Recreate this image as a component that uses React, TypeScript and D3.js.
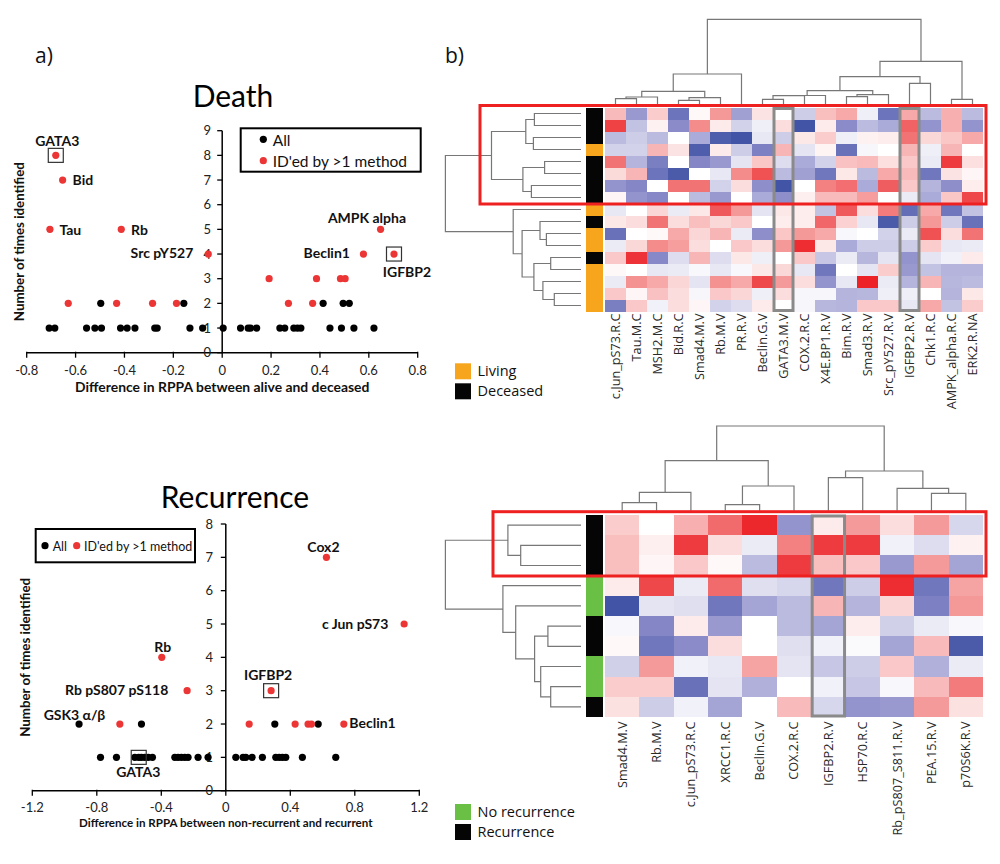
import * as d3 from 'd3';

type Tree = number | [number, Tree, Tree];

// ---------------- a) Death scatter ----------------
const deathXTicks = [-0.8, -0.6, -0.4, -0.2, 0, 0.2, 0.4, 0.6, 0.8];
const deathYTicks = [0, 1, 2, 3, 4, 5, 6, 7, 8, 9];
// black dots ("All") identified once / twice
const deathOnce = [-0.708, -0.685, -0.555, -0.521, -0.494, -0.416, -0.389, -0.357, -0.276, -0.266, -0.132, -0.08,
  0.004, 0.075, 0.106, 0.116, 0.141, 0.236, 0.256, 0.293, 0.308, 0.322, 0.441, 0.488, 0.539, 0.621];
const deathTwice = [-0.497, -0.157, 0.413, 0.495, 0.52];
// red dots (ID'ed by >1 method), unnamed
const deathMultiTwice = [-0.63, -0.432, -0.285, -0.187, 0.271, 0.37];
const deathMultiThrice = [0.192, 0.386, 0.484, 0.503];
const deathNamed = [
  { name: 'GATA3', diff: -0.681, count: 8, multi: true, boxed: true },
  { name: 'Bid', diff: -0.653, count: 7, multi: true },
  { name: 'Tau', diff: -0.705, count: 5, multi: true },
  { name: 'Rb', diff: -0.413, count: 5, multi: true },
  { name: 'Src pY527', diff: -0.057, count: 4, multi: true },
  { name: 'AMPK alpha', diff: 0.648, count: 5, multi: true },
  { name: 'Beclin1', diff: 0.578, count: 4, multi: true },
  { name: 'IGFBP2', diff: 0.703, count: 4, multi: true, boxed: true },
];

// ---------------- a) Recurrence scatter ----------------
const recXTicks = [-1.2, -0.8, -0.4, 0, 0.4, 0.8, 1.2];
const recYTicks = [0, 1, 2, 3, 4, 5, 6, 7, 8];
const recOnce = [-0.777, -0.678, -0.564, -0.523, -0.502, -0.481, -0.455, -0.316, -0.296, -0.275, -0.254, -0.234,
  -0.172, -0.11, 0.062, 0.107, 0.124, 0.163, 0.227, 0.31, 0.331, 0.351, 0.372, 0.475, 0.682];
const recTwice = [-0.523, 0.304, 0.573];
const recMultiTwice = [-0.657, 0.145, 0.43, 0.51, 0.531];
const recNamed = [
  { name: 'Cox2', diff: 0.624, count: 7, multi: true },
  { name: 'c Jun pS73', diff: 1.106, count: 5, multi: true },
  { name: 'Rb', diff: -0.397, count: 4, multi: true },
  { name: 'Rb pS807 pS118', diff: -0.24, count: 3, multi: true },
  { name: 'IGFBP2', diff: 0.281, count: 3, multi: true, boxed: true },
  { name: 'GSK3 α/β', diff: -0.91, count: 2, multi: false },
  { name: 'Beclin1', diff: 0.732, count: 2, multi: true },
  { name: 'GATA3', diff: -0.54, count: 1, multi: false, boxed: true },
];

// ---------------- b) Death heatmap ----------------
const deathCols = ['c.Jun_pS73.R.C', 'Tau.M.C', 'MSH2.M.C', 'Bid.R.C', 'Smad4.M.V', 'Rb.M.V', 'PR.R.V', 'Beclin.G.V',
  'GATA3.M.V', 'COX.2.R.C', 'X4E.BP1.R.V', 'Bim.R.V', 'Smad3.R.V', 'Src_pY527.R.V', 'IGFBP2.R.V', 'Chk1.R.C',
  'AMPK_alpha.R.C', 'ERK2.R.NA'];
const deathStatus = ['D', 'D', 'D', 'L', 'D', 'D', 'D', 'D', 'L', 'D', 'L', 'L', 'D', 'L', 'L', 'L', 'L'];
const deathValues = [
  [0.3, -0.45, 0.22, -0.7, 0.03, 0.45, -0.42, 0.12, 0, -0.22, 0.28, 0.38, -0.07, -0.7, 0.38, -0.3, 0.35, -0.3],
  [0.85, -0.27, 0.06, -0.52, 0.5, 0.09, -0.2, -0.07, 0.15, -0.95, 0.09, -0.52, -0.3, -0.37, 0.7, -0.48, 0.35, -0.48],
  [-0.3, -0.22, -0.3, 0, -0.37, -0.88, -0.95, -0.1, -0.22, 0.1, 0.22, -0.07, 0.06, 0.08, 0.62, 0.17, 0.25, 0.38],
  [-0.2, -0.2, 0.32, 0.12, -0.88, 0.09, -0.22, -0.6, 0.32, -0.12, 0.05, -0.72, -0.04, 0, 0.32, -0.07, 0.32, 0],
  [0.62, -0.33, -0.62, 0, -0.56, -0.45, -0.12, 0.25, -0.15, -0.37, -0.2, 0.27, 0.3, 0.14, 0.24, -0.09, 0.88, 0.14],
  [0.16, 0.32, -0.7, -0.9, 0, -0.1, 0.5, 0.78, -0.3, -0.42, -0.68, 0.1, -0.3, 0.38, 0.3, -0.68, 0.12, 0.04],
  [-0.48, -0.56, 0, 0.62, 0.62, -0.2, 0.15, -0.5, -0.95, 0, 0.55, 0.64, -0.37, 0.72, 0.24, -0.33, -0.5, 0.08],
  [0.04, -0.48, -0.55, 0, -0.3, -0.45, 0, -0.37, -0.5, 0.07, 0.3, 0.3, 0.42, 0, -0.09, -0.37, 0.25, 0.82],
  [-0.1, 0, 0.18, -0.09, 0.1, 0.74, 0.45, -0.12, 0.1, 0.08, -0.27, 0.74, 0.15, 0.58, -0.75, 0.38, -0.68, -0.27],
  [0.1, 0.15, 0.62, 0.15, 0.28, 0.17, 0.24, 0, 0.08, 0.08, 0.68, 0.2, -0.1, -0.9, -0.22, 0.45, -0.22, -0.72],
  [-0.72, 0, 0.03, 0.38, 0.18, 0.32, -0.09, -0.5, 0.25, 0.45, 0.38, -0.03, 0, -0.2, -0.09, 0.78, 0.15, 0.62],
  [-0.09, 0.17, 0.5, 0.42, 0.15, 0, 0.24, 0.15, 0.45, 0.95, 0.1, -0.37, -0.22, -0.22, -0.22, 0.22, -0.1, -0.09],
  [0.24, 0.92, -0.55, -0.15, 0.32, -0.15, 0.1, -0.07, 0, 0.24, -0.25, -0.09, -0.32, -0.12, -0.48, -0.12, -0.06, 0.09],
  [0.03, 0, -0.1, -0.09, -0.03, -0.1, -0.03, 0.1, 0.17, -0.1, -0.68, 0, -0.12, 0.22, -0.45, -0.27, -0.33, -0.33],
  [-0.09, 0.48, 0.38, 0.18, -0.12, 0.48, 0.38, 0.82, 0.44, 0.15, -0.48, -0.1, 1.0, -0.09, -0.33, 0.32, -0.32, -0.3],
  [0.24, 0.04, 0.27, 0.15, -0.04, 0.24, 0.18, -0.07, 0.15, -0.04, -0.04, -0.33, -0.32, -0.07, -0.07, 0, -0.33, 0.1],
  [-0.62, 0.24, -0.06, 0.15, 0.04, -0.2, -0.15, 0.09, 0, -0.04, -0.32, -0.33, 0.24, 0.24, -0.1, 0.38, -0.27, 0.22],
];
// dendrograms: [merge height, left, right], leaves are indices
const deathColTree: Tree = [85.7,
  [31, [13.7, [8, [6.3, 0, 1], 2], [7.3, [4.7, 3, 4], 5]], 6],
  [43.7, [28.3, [14.3, [9.5, [9.3, [5.7, 7, 8], 9], 10], [10.3, [8.3, 11, 12], 13]], [21.7, 14, 15]], [5.7, 16, 17]]];
const deathRowTree: Tree = [135.6,
  [89.5, [55.2, [46.6, 0, 1], [47.6, 2, 3]], [58.1, [36.4, 4, 5], [49.6, 6, 7]]],
  [67.8, 8, [58.9, [41, 9, [34.6, 10, 11]], [47.1, [30.3, 12, 13], [38.1, 14, [26.7, 15, 16]]]]]];
const deathHighlight = ['GATA3.M.V', 'IGFBP2.R.V'];
const deathClusterRows = 8;

// ---------------- b) Recurrence heatmap ----------------
const recCols = ['Smad4.M.V', 'Rb.M.V', 'c.Jun_pS73.R.C', 'XRCC1.R.C', 'Beclin.G.V', 'COX.2.R.C', 'IGFBP2.R.V',
  'HSP70.R.C', 'Rb_pS807_S811.R.V', 'PEA.15.R.V', 'p70S6K.R.V'];
const recStatus = ['R', 'R', 'R', 'N', 'N', 'R', 'R', 'N', 'N', 'R'];
const recValues = [
  [0.22, 0, 0.35, 0.66, 0.97, -0.48, 0.09, 0.44, 0.15, 0.44, -0.18],
  [0.28, 0.07, 0.88, 0.15, -0.09, 0.55, 0.88, 0.88, -0.06, -0.15, 0.06],
  [0.28, 0.04, 0.24, 0.03, -0.3, 0.88, 0.28, 0.24, -0.45, 0.44, -0.4],
  [0.09, 0.82, -0.09, 0.66, -0.14, -0.18, -0.68, -0.22, 0.95, -0.68, 0.4],
  [-0.95, -0.12, -0.14, -0.68, -0.4, -0.3, 0.32, -0.33, 0.18, -0.6, 0.45],
  [-0.03, -0.56, 0.09, -0.45, 0, -0.3, -0.4, 0.08, -0.21, -0.09, -0.03],
  [0.03, -0.68, -0.52, 0.15, 0, -0.14, -0.06, -0.02, -0.4, 0.3, -0.9],
  [-0.21, 0.44, -0.06, -0.1, 0.4, -0.12, -0.25, -0.22, 0.24, -0.35, -0.09],
  [0.22, 0.22, -0.72, -0.12, -0.35, 0, -0.06, -0.25, -0.03, 0.3, 0.58],
  [0.13, -0.22, -0.06, -0.4, 0, 0.3, -0.18, -0.48, -0.45, 0.44, 0.13],
];
const recColTree: Tree = [84.7,
  [50, [18.4, [8, 0, 1], 2], [24.7, [6, 3, 4], 5]],
  [39.7, [33, 6, 7], [22.4, 8, [17.4, 9, 10]]]];
const recRowTree: Tree = [135.6,
  [73.1, 0, [60.3, 1, 2]],
  [78.1, 3, [65.3, 4, [46.4, [33.1, 5, 6], [40.3, 7, [30.3, 8, 9]]]]]];
const recHighlight = ['IGFBP2.R.V'];
const recClusterRows = 3;

const statusColor: Record<string, string> = { L: '#f7a51c', D: '#050505', N: '#6abf45', R: '#050505' };
const heatColor = d3.scaleLinear<string>()
  .domain([-1, -0.5, 0, 0.5, 1])
  .range(['#3a4ea2', '#8e8ecb', '#ffffff', '#f48c8c', '#ec2227']);

const RED = '#ec3535';
const SANS = 'Lato, "Open Sans", sans-serif';
const HSANS = '"Open Sans", "Noto Sans", sans-serif';

// label offsets in px relative to the point [dx, dy, anchor]
const deathLabelPos: Record<string, [number, number, string]> = {
  'GATA3': [1.5, -14.6, 'middle'], 'Bid': [10, 0, 'start'], 'Tau': [9.5, 0.5, 'start'], 'Rb': [9.7, 0.5, 'start'],
  'Src pY527': [-15, -0.7, 'end'], 'AMPK alpha': [-13.6, -11, 'middle'], 'Beclin1': [-13.5, -0.7, 'end'],
  'IGFBP2': [13, 17.7, 'middle'],
};
const recLabelPos: Record<string, [number, number, string]> = {
  'Cox2': [-3, -10.6, 'middle'], 'c Jun pS73': [-15.8, 0, 'end'], 'Rb': [1, -10.6, 'middle'],
  'Rb pS807 pS118': [-18.8, -0.7, 'end'], 'IGFBP2': [-3, -15.7, 'middle'], 'GSK3 α/β': [-4.6, -9, 'middle'],
  'Beclin1': [5.5, -0.7, 'start'], 'GATA3': [-0.4, 14.3, 'middle'],
};

function dendroPath(tree: Tree, leaf: (i: number) => number, hs: (h: number) => number, vertical: boolean) {
  const p = d3.path();
  const pt = (pos: number, h: number): [number, number] => (vertical ? [pos, hs(h)] : [hs(h), pos]);
  const walk = (t: Tree): [number, number] => {
    if (typeof t === 'number') return [leaf(t), 0];
    const [h, a, b] = t;
    const [pa, ha] = walk(a);
    const [pb, hb] = walk(b);
    p.moveTo(...pt(pa, ha));
    p.lineTo(...pt(pa, h));
    p.lineTo(...pt(pb, h));
    p.lineTo(...pt(pb, hb));
    return [(pa + pb) / 2, h];
  };
  walk(tree);
  return p.toString();
}

const fmt = (v: number) => (v === 0 ? '0' : String(v));

interface ScatterProps {
  title: string; titleX: number; titleY: number;
  xDomain: [number, number]; xRange: [number, number]; xTicks: number[];
  yDomain: [number, number]; yRange: [number, number]; yTicks: number[];
  xLabel: string; xLabelY: number; xLabelSize: number; xTickY: number; yLabelX: number; yTickEnd: number;
  once: number[]; twice: number[]; multiTwice: number[]; multiThrice: number[];
  named: { name: string; diff: number; count: number; multi: boolean; boxed?: boolean }[];
  labelPos: Record<string, [number, number, string]>;
  legend: (r: number) => JSX.Element;
}

function Scatter(p: ScatterProps) {
  const x = d3.scaleLinear().domain(p.xDomain).range(p.xRange);
  const y = d3.scaleLinear().domain(p.yDomain).range(p.yRange);
  const r = 3.6;
  const x0 = x(0), yBase = y(0);
  const dots: { d: number; n: number; red: boolean }[] = [
    ...p.once.map(d => ({ d, n: 1, red: false })),
    ...p.twice.map(d => ({ d, n: 2, red: false })),
    ...p.multiTwice.map(d => ({ d, n: 2, red: true })),
    ...p.multiThrice.map(d => ({ d, n: 3, red: true })),
    ...p.named.map(q => ({ d: q.diff, n: q.count, red: q.multi })),
  ];
  const yMid = (p.yRange[0] + p.yRange[1]) / 2;
  return (
    <g fontFamily={SANS}>
      <text x={p.titleX} y={p.titleY} fontSize={30} textAnchor="middle" fill="#000">{p.title}</text>
      {/* axes */}
      <line x1={p.xRange[0]} x2={p.xRange[1]} y1={yBase} y2={yBase} stroke="#000" strokeWidth={1.5} />
      <line x1={x0} x2={x0} y1={p.yRange[0]} y2={p.yRange[1]} stroke="#000" strokeWidth={1.5} />
      {p.xTicks.map(t => (
        <g key={'xt' + t}>
          <line x1={x(t)} x2={x(t)} y1={yBase - 1} y2={yBase + 5} stroke="#000" strokeWidth={1.3} />
          <text x={x(t)} y={p.xTickY} dy="0.35em" fontSize={13} textAnchor="middle" fill="#222">{fmt(t)}</text>
        </g>
      ))}
      {p.yTicks.map(t => (
        <g key={'yt' + t}>
          <line x1={x0 - 5} x2={x0} y1={y(t)} y2={y(t)} stroke="#000" strokeWidth={1.3} />
          <text x={p.yTickEnd} y={y(t)} dy="0.35em" fontSize={13} textAnchor="end" fill="#222">{t}</text>
        </g>
      ))}
      <text x={(p.xRange[0] + p.xRange[1]) / 2} y={p.xLabelY} dy="0.35em" fontSize={p.xLabelSize} fontWeight={700}
        textAnchor="middle" fill="#111">{p.xLabel}</text>
      <text transform={`translate(${p.yLabelX},${yMid}) rotate(-90)`} dy="0.35em" fontSize={13.3} fontWeight={700}
        textAnchor="middle" fill="#111">Number of times identified</text>
      {/* points */}
      {dots.map((o, i) => (
        <circle key={i} cx={x(o.d)} cy={y(o.n)} r={r} fill={o.red ? RED : '#000'} />
      ))}
      {p.named.map(q => {
        const [dx, dy, anchor] = p.labelPos[q.name];
        const cx = x(q.diff), cy = y(q.count);
        return (
          <g key={q.name}>
            {q.boxed && <rect x={cx - 7.5} y={cy - 7} width={15} height={14} fill="none" stroke="#333" strokeWidth={1.2} />}
            <text x={cx + dx} y={cy + dy} dy="0.35em" fontSize={14} fontWeight={700} textAnchor={anchor}
              fill="#111">{q.name}</text>
          </g>
        );
      })}
      {p.legend(r)}
    </g>
  );
}

interface HeatProps {
  cols: string[]; status: string[]; values: number[][];
  colTree: Tree; rowTree: Tree; highlight: string[]; clusterRows: number;
  yTop: number; yBottom: number; colTreeTop: number; colTreeBottom: number;
  redLeft: number; redPadTop: number; redPadBottom: number; labelGap: number;
}

function Heatmap(p: HeatProps) {
  const xb = d3.scaleBand<number>().domain(d3.range(p.cols.length)).range([605, 983]);
  const yb = d3.scaleBand<number>().domain(d3.range(p.status.length)).range([p.yTop, p.yBottom]);
  const bw = xb.bandwidth(), bh = yb.bandwidth();
  const maxH = (t: Tree) => (typeof t === 'number' ? 0 : t[0]);
  const colH = d3.scaleLinear().domain([0, maxH(p.colTree)]).range([p.colTreeBottom, p.colTreeTop]);
  const rowH = d3.scaleLinear().domain([0, maxH(p.rowTree)]).range([581, 445.4]);
  const colPath = dendroPath(p.colTree, i => (xb(i) as number) + bw / 2, colH, true);
  const rowPath = dendroPath(p.rowTree, i => (yb(i) as number) + bh / 2, rowH, false);
  const redY = (yb(0) as number) - p.redPadTop;
  const redH = p.clusterRows * bh + p.redPadTop + p.redPadBottom;
  return (
    <g>
      <path d={colPath} fill="none" stroke="#777" strokeWidth={1.2} />
      <path d={rowPath} fill="none" stroke="#777" strokeWidth={1.2} />
      {p.status.map((s, i) => (
        <rect key={'s' + i} x={586} y={yb(i)} width={17} height={bh + 0.4} fill={statusColor[s]} shapeRendering="crispEdges" />
      ))}
      {p.values.map((row, i) => row.map((v, j) => (
        <rect key={i + '-' + j} x={xb(j)} y={yb(i)} width={bw + 0.4} height={bh + 0.4} fill={heatColor(v)}
          shapeRendering="crispEdges" />
      )))}
      {p.highlight.map(c => {
        const j = p.cols.indexOf(c);
        return <rect key={'h' + c} x={(xb(j) as number) + 1} y={p.yTop + 1} width={bw - 2} height={p.yBottom - p.yTop - 2}
          fill="none" stroke="#8a8a8a" strokeWidth={3} />;
      })}
      <rect x={p.redLeft} y={redY} width={986 - p.redLeft} height={redH} fill="none" stroke="#ee2020" strokeWidth={3} />
      {p.cols.map((c, j) => (
        <text key={c} transform={`translate(${(xb(j) as number) + bw / 2},${p.yBottom + p.labelGap}) rotate(-90)`}
          dy="0.35em" textAnchor="end" fontSize={12.7} fontFamily={HSANS} fill="#2a2a2a">{c}</text>
      ))}
    </g>
  );
}

function HeatLegend({ y, items }: { y: number; items: [string, string][] }) {
  return (
    <g fontFamily={HSANS}>
      {items.map(([label, color], i) => (
        <g key={label}>
          <rect x={455} y={y + i * 20} width={16} height={16} fill={color} />
          <text x={477.5} y={y + i * 20 + 8} dy="0.35em" fontSize={14.5} fill="#111">{label}</text>
        </g>
      ))}
    </g>
  );
}

export default function App() {
  return (
    <svg width={1000} height={864} style={{ position: 'absolute', left: 0, top: 0, background: '#fff' }}>
      <rect width={1000} height={864} fill="#fff" />
      <text x={35} y={63} fontSize={21} fontFamily={HSANS} fill="#111">a)</text>
      <text x={445} y={63} fontSize={21} fontFamily={HSANS} fill="#111">b)</text>

      <Scatter title="Death" titleX={233} titleY={106.7}
        xDomain={[-0.8, 0.8]} xRange={[26.7, 417.7]} xTicks={deathXTicks}
        yDomain={[0, 9]} yRange={[352.7, 130.7]} yTicks={deathYTicks}
        xLabel="Difference in RPPA between alive and deceased" xLabelY={387.3} xLabelSize={13.9}
        xTickY={370} yLabelX={19} yTickEnd={211}
        once={deathOnce} twice={deathTwice} multiTwice={deathMultiTwice} multiThrice={deathMultiThrice}
        named={deathNamed} labelPos={deathLabelPos}
        legend={r => (
          <g>
            <rect x={240.7} y={128.3} width={180} height={43.4} fill="none" stroke="#000" strokeWidth={2} />
            <circle cx={263.3} cy={139.3} r={r} fill="#000" />
            <text x={272.7} y={140.5} dy="0.35em" fontSize={15.5} fill="#111">All</text>
            <circle cx={263.3} cy={160.7} r={r} fill={RED} />
            <text x={272.7} y={161.5} dy="0.35em" fontSize={15.5} fill="#111">ID'ed by &gt;1 method</text>
          </g>
        )} />

      <Scatter title="Recurrence" titleX={235} titleY={508}
        xDomain={[-1.2, 1.2]} xRange={[32.3, 419.3]} xTicks={recXTicks}
        yDomain={[0, 8]} yRange={[790.7, 524]} yTicks={recYTicks}
        xLabel="Difference in RPPA between non-recurrent and recurrent" xLabelY={823.3} xLabelSize={11.6}
        xTickY={807.3} yLabelX={25} yTickEnd={213}
        once={recOnce} twice={recTwice} multiTwice={recMultiTwice} multiThrice={[]}
        named={recNamed} labelPos={recLabelPos}
        legend={r => (
          <g>
            <rect x={35.7} y={529} width={159.3} height={33.3} fill="none" stroke="#000" strokeWidth={2} />
            <circle cx={45} cy={545.7} r={r} fill="#000" />
            <text x={52.7} y={546.7} dy="0.35em" fontSize={12.5} fill="#111">All</text>
            <circle cx={76.7} cy={545.7} r={r} fill={RED} />
            <text x={84} y={546.7} dy="0.35em" fontSize={12.5} fill="#111">ID'ed by &gt;1 method</text>
          </g>
        )} />

      <Heatmap cols={deathCols} status={deathStatus} values={deathValues}
        colTree={deathColTree} rowTree={deathRowTree} highlight={deathHighlight} clusterRows={deathClusterRows}
        yTop={107.5} yBottom={311.5} colTreeTop={19.3} colTreeBottom={105}
        redLeft={480} redPadTop={2} redPadBottom={0.5} labelGap={2} />
      <HeatLegend y={363.3} items={[['Living', statusColor.L], ['Deceased', statusColor.D]]} />

      <Heatmap cols={recCols} status={recStatus} values={recValues}
        colTree={recColTree} rowTree={recRowTree} highlight={recHighlight} clusterRows={recClusterRows}
        yTop={515} yBottom={717} colTreeTop={426} colTreeBottom={510.7}
        redLeft={493} redPadTop={3.3} redPadBottom={0.4} labelGap={4.5} />
      <HeatLegend y={804} items={[['No recurrence', statusColor.N], ['Recurrence', statusColor.R]]} />
    </svg>
  );
}
